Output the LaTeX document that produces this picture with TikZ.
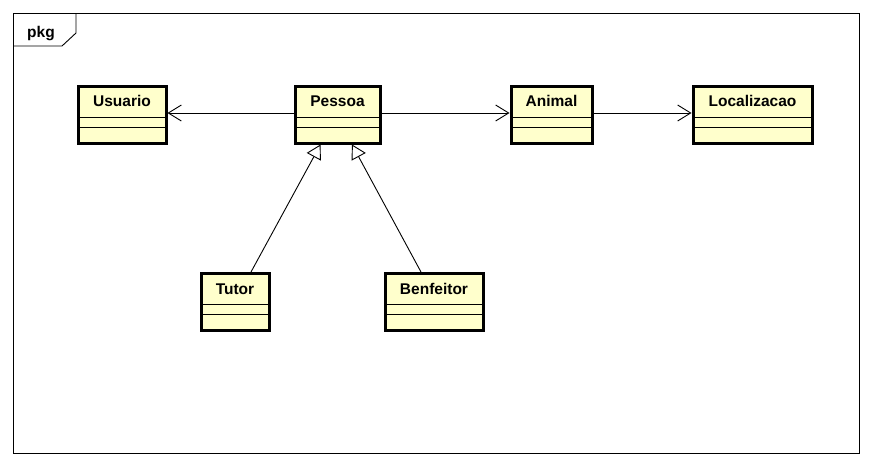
\documentclass[tikz,border=0pt]{standalone}
\usepackage{fontspec}
\setmainfont{Liberation Sans}
\usetikzlibrary{positioning,arrows.meta}
\definecolor{classfill}{RGB}{255,255,204}
\tikzset{
x=1pt, y=-1pt,
nav/.style={-{Straight Barb[length=13pt,width=16pt]}, line width=0.9pt},
gen/.style={-{Triangle[open,length=14pt,width=16pt,fill=white]}, line width=0.9pt},
umlclass/.style={draw, fill=classfill, line width=3pt, inner xsep=0pt, inner ysep=0pt,
  text height=20.5pt, text depth=36.5pt, font=\fontsize{15.5}{18}\selectfont\bfseries,
  path picture={
    \draw[line width=0.9pt] ([yshift=26pt]path picture bounding box.south west) -- ([yshift=26pt]path picture bounding box.south east);
    \draw[line width=0.9pt] ([yshift=16pt]path picture bounding box.south west) -- ([yshift=16pt]path picture bounding box.south east);
  }},
}

\begin{document}
\begin{tikzpicture}

    \useasboundingbox (0,0) rectangle (872,466);

    % package frame
    \draw[line width=0.9pt] (13,13) rectangle (859,453);
    \draw[line width=0.9pt] (13,46) -- (62,46) -- (76,33) -- (76,13);
    \node[font=\fontsize{15.5}{18}\selectfont\bfseries, anchor=base west, inner sep=0pt] (pkg) at (27,37) {pkg};

    \node[umlclass, minimum width=88pt] (usuario) at (122,114.5) {Usuario};
    \node[umlclass, minimum width=85pt] (pessoa) at (337.5,114.5) {Pessoa};
    \node[umlclass, minimum width=81pt] (animal) at (551.5,114.5) {Animal};
    \node[umlclass, minimum width=119pt] (localizacao) at (752.5,114.5) {Localizacao};
    \node[umlclass, minimum width=68pt] (tutor) at (235,302) {Tutor};
    \node[umlclass, minimum width=98pt] (benfeitor) at (434,302) {Benfeitor};

    \draw[nav] (pessoa.west |- 0,113) -- (usuario.east |- 0,113);
    \draw[nav] (pessoa.east |- 0,113) -- (animal.west |- 0,113);
    \draw[nav] (animal.east |- 0,113) -- (localizacao.west |- 0,113);

    \draw[gen] ([xshift=16pt]tutor.north) -- ([xshift=-17pt]pessoa.south);
    \draw[gen] ([xshift=-13pt]benfeitor.north) -- ([xshift=14.5pt]pessoa.south);

\end{tikzpicture}
\end{document}
